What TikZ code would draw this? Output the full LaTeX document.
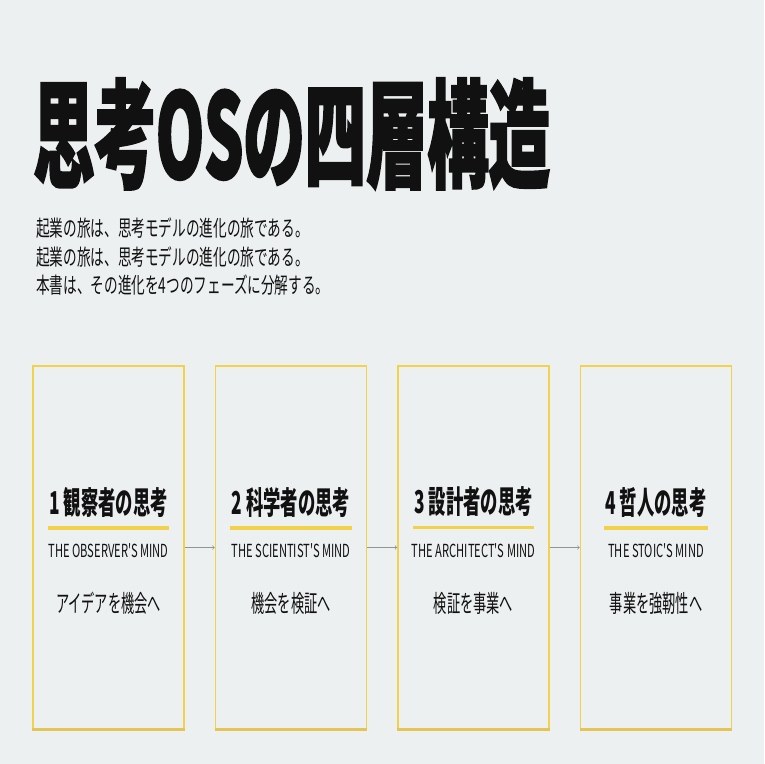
\documentclass[tikz,border=0pt]{standalone}
\usepackage{fontspec}
\setsansfont{Noto Sans CJK JP}[FakeStretch=0.66]
\newfontfamily\condfont{Noto Sans CJK JP}[FakeStretch=0.55]
\newfontfamily\latinfont{Noto Sans CJK JP}[FakeStretch=0.62]
\newfontfamily\titlefont{Noto Sans CJK JP}[FakeStretch=0.52,FakeBold=1.5]
\renewcommand{\familydefault}{\sfdefault}

\definecolor{paper}{HTML}{EDF0F1}
\definecolor{gold}{HTML}{F2D24B}
\definecolor{golddark}{HTML}{E3C455}
\definecolor{ink}{HTML}{111111}

\tikzset{
  card/.style={draw=gold, line width=1.6pt, minimum width=151pt, minimum height=363pt, inner sep=0pt},
  phase/.style={font=\condfont\bfseries\fontsize{31.5}{32}\selectfont, text=ink, inner sep=0pt},
  mind/.style={font=\latinfont\fontsize{18}{18}\selectfont, text=ink, inner sep=0pt},
  gist/.style={font=\condfont\fontsize{24}{24}\selectfont, text=ink, inner sep=0pt},
  rule/.style={draw=gold, line width=3.5pt},
  flow/.style={->, draw=gray!85, line width=0.7pt}
}

\begin{document}
\begin{tikzpicture}[x=1pt, y=-1pt]
  \fill[paper] (0,0) rectangle (764,764);
  \useasboundingbox (0,0) rectangle (764,764);

  \node[anchor=west, inner sep=0pt, text=ink,
        font=\titlefont\bfseries\fontsize{118}{118}\selectfont] (title) at (33,134) {思考OSの四層構造};
  \node[anchor=north west, align=left, inner sep=0pt, text=ink,
        font=\latinfont\fontsize{22}{28.5}\selectfont] (lead) at (36,218)
        {起業の旅は、思考モデルの進化の旅である。\\
         起業の旅は、思考モデルの進化の旅である。\\
         本書は、その進化を4つのフェーズに分解する。};

  % four phases
  \foreach \i/\x/\head/\eng/\body in {
      1/108.5/1 観察者の思考/THE OBSERVER'S MIND/アイデアを機会へ,
      2/291/2 科学者の思考/THE SCIENTIST'S MIND/機会を検証へ,
      3/473.5/3 設計者の思考/THE ARCHITECT'S MIND/検証を事業へ,
      4/656/4 哲人の思考/THE STOIC'S MIND/事業を強靭性へ} {
    \node[card] (card\i) at (\x,547.5) {};
    \draw[golddark, line width=3pt] (card\i.south west) -- (card\i.south east);
    \node[phase] (phase\i) at (\x,502) {\head};
    \draw[rule] ([xshift=-1.5pt, yshift=-10.5pt]phase\i.south west) -- ([xshift=1.5pt, yshift=-10.5pt]phase\i.south east);
    \node[mind] (mind\i) at (\x,551) {\eng};
    \node[gist] (gist\i) at (\x,603) {\body};
  }

  \foreach \i/\j in {1/2, 2/3, 3/4}
    \draw[flow] (card\i) -- (card\j);
\end{tikzpicture}
\end{document}
